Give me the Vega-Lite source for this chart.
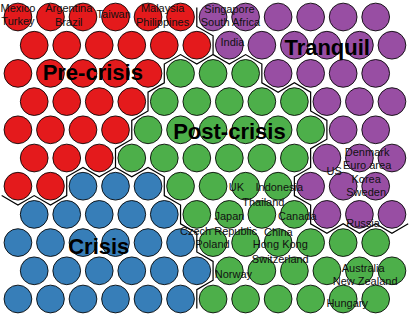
{
  "$schema": "https://vega.github.io/schema/vega-lite/v6.json",
  "width": 415,
  "height": 321,
  "padding": 0,
  "autosize": {"type": "fit", "contains": "padding"},
  "config": {"view": {"stroke": null}, "font": "Liberation Sans"},
  "datasets": {
    "cells": [
      {"x":0,"y":0,"g":"Pre-crisis"},{"x":1,"y":0,"g":"Pre-crisis"},{"x":2,"y":0,"g":"Pre-crisis"},{"x":3,"y":0,"g":"Pre-crisis"},{"x":4,"y":0,"g":"Pre-crisis"},{"x":5,"y":0,"g":"Pre-crisis"},{"x":6,"y":0,"g":"Tranquil"},{"x":7,"y":0,"g":"Tranquil"},{"x":8,"y":0,"g":"Tranquil"},{"x":9,"y":0,"g":"Tranquil"},{"x":10,"y":0,"g":"Tranquil"},{"x":11,"y":0,"g":"Tranquil"},
      {"x":0.5,"y":1,"g":"Pre-crisis"},{"x":1.5,"y":1,"g":"Pre-crisis"},{"x":2.5,"y":1,"g":"Pre-crisis"},{"x":3.5,"y":1,"g":"Pre-crisis"},{"x":4.5,"y":1,"g":"Pre-crisis"},{"x":5.5,"y":1,"g":"Pre-crisis"},{"x":6.5,"y":1,"g":"Tranquil"},{"x":7.5,"y":1,"g":"Tranquil"},{"x":8.5,"y":1,"g":"Tranquil"},{"x":9.5,"y":1,"g":"Tranquil"},{"x":10.5,"y":1,"g":"Tranquil"},{"x":11.5,"y":1,"g":"Tranquil"},
      {"x":0,"y":2,"g":"Pre-crisis"},{"x":1,"y":2,"g":"Pre-crisis"},{"x":2,"y":2,"g":"Pre-crisis"},{"x":3,"y":2,"g":"Pre-crisis"},{"x":4,"y":2,"g":"Pre-crisis"},{"x":5,"y":2,"g":"Post-crisis"},{"x":6,"y":2,"g":"Post-crisis"},{"x":7,"y":2,"g":"Post-crisis"},{"x":8,"y":2,"g":"Tranquil"},{"x":9,"y":2,"g":"Tranquil"},{"x":10,"y":2,"g":"Tranquil"},{"x":11,"y":2,"g":"Tranquil"},
      {"x":0.5,"y":3,"g":"Pre-crisis"},{"x":1.5,"y":3,"g":"Pre-crisis"},{"x":2.5,"y":3,"g":"Pre-crisis"},{"x":3.5,"y":3,"g":"Pre-crisis"},{"x":4.5,"y":3,"g":"Post-crisis"},{"x":5.5,"y":3,"g":"Post-crisis"},{"x":6.5,"y":3,"g":"Post-crisis"},{"x":7.5,"y":3,"g":"Post-crisis"},{"x":8.5,"y":3,"g":"Post-crisis"},{"x":9.5,"y":3,"g":"Tranquil"},{"x":10.5,"y":3,"g":"Tranquil"},{"x":11.5,"y":3,"g":"Tranquil"},
      {"x":0,"y":4,"g":"Pre-crisis"},{"x":1,"y":4,"g":"Pre-crisis"},{"x":2,"y":4,"g":"Pre-crisis"},{"x":3,"y":4,"g":"Pre-crisis"},{"x":4,"y":4,"g":"Post-crisis"},{"x":5,"y":4,"g":"Post-crisis"},{"x":6,"y":4,"g":"Post-crisis"},{"x":7,"y":4,"g":"Post-crisis"},{"x":8,"y":4,"g":"Post-crisis"},{"x":9,"y":4,"g":"Post-crisis"},{"x":10,"y":4,"g":"Tranquil"},{"x":11,"y":4,"g":"Tranquil"},
      {"x":0.5,"y":5,"g":"Pre-crisis"},{"x":1.5,"y":5,"g":"Pre-crisis"},{"x":2.5,"y":5,"g":"Pre-crisis"},{"x":3.5,"y":5,"g":"Post-crisis"},{"x":4.5,"y":5,"g":"Post-crisis"},{"x":5.5,"y":5,"g":"Post-crisis"},{"x":6.5,"y":5,"g":"Post-crisis"},{"x":7.5,"y":5,"g":"Post-crisis"},{"x":8.5,"y":5,"g":"Post-crisis"},{"x":9.5,"y":5,"g":"Tranquil"},{"x":10.5,"y":5,"g":"Tranquil"},{"x":11.5,"y":5,"g":"Tranquil"},
      {"x":0,"y":6,"g":"Pre-crisis"},{"x":1,"y":6,"g":"Pre-crisis"},{"x":2,"y":6,"g":"Crisis"},{"x":3,"y":6,"g":"Crisis"},{"x":4,"y":6,"g":"Crisis"},{"x":5,"y":6,"g":"Post-crisis"},{"x":6,"y":6,"g":"Post-crisis"},{"x":7,"y":6,"g":"Post-crisis"},{"x":8,"y":6,"g":"Post-crisis"},{"x":9,"y":6,"g":"Tranquil"},{"x":10,"y":6,"g":"Tranquil"},{"x":11,"y":6,"g":"Tranquil"},
      {"x":0.5,"y":7,"g":"Crisis"},{"x":1.5,"y":7,"g":"Crisis"},{"x":2.5,"y":7,"g":"Crisis"},{"x":3.5,"y":7,"g":"Crisis"},{"x":4.5,"y":7,"g":"Crisis"},{"x":5.5,"y":7,"g":"Post-crisis"},{"x":6.5,"y":7,"g":"Post-crisis"},{"x":7.5,"y":7,"g":"Post-crisis"},{"x":8.5,"y":7,"g":"Post-crisis"},{"x":9.5,"y":7,"g":"Tranquil"},{"x":10.5,"y":7,"g":"Tranquil"},{"x":11.5,"y":7,"g":"Tranquil"},
      {"x":0,"y":8,"g":"Crisis"},{"x":1,"y":8,"g":"Crisis"},{"x":2,"y":8,"g":"Crisis"},{"x":3,"y":8,"g":"Crisis"},{"x":4,"y":8,"g":"Crisis"},{"x":5,"y":8,"g":"Crisis"},{"x":6,"y":8,"g":"Post-crisis"},{"x":7,"y":8,"g":"Post-crisis"},{"x":8,"y":8,"g":"Post-crisis"},{"x":9,"y":8,"g":"Post-crisis"},{"x":10,"y":8,"g":"Post-crisis"},{"x":11,"y":8,"g":"Post-crisis"},
      {"x":0.5,"y":9,"g":"Crisis"},{"x":1.5,"y":9,"g":"Crisis"},{"x":2.5,"y":9,"g":"Crisis"},{"x":3.5,"y":9,"g":"Crisis"},{"x":4.5,"y":9,"g":"Crisis"},{"x":5.5,"y":9,"g":"Crisis"},{"x":6.5,"y":9,"g":"Post-crisis"},{"x":7.5,"y":9,"g":"Post-crisis"},{"x":8.5,"y":9,"g":"Post-crisis"},{"x":9.5,"y":9,"g":"Post-crisis"},{"x":10.5,"y":9,"g":"Post-crisis"},{"x":11.5,"y":9,"g":"Post-crisis"},
      {"x":0,"y":10,"g":"Crisis"},{"x":1,"y":10,"g":"Crisis"},{"x":2,"y":10,"g":"Crisis"},{"x":3,"y":10,"g":"Crisis"},{"x":4,"y":10,"g":"Crisis"},{"x":5,"y":10,"g":"Crisis"},{"x":6,"y":10,"g":"Post-crisis"},{"x":7,"y":10,"g":"Post-crisis"},{"x":8,"y":10,"g":"Post-crisis"},{"x":9,"y":10,"g":"Post-crisis"},{"x":10,"y":10,"g":"Post-crisis"},{"x":11,"y":10,"g":"Post-crisis"}
    ],
    "borders": [
      {"p":1,"o":0,"x":5.5,"y":-0.333},{"p":1,"o":1,"x":5.5,"y":0.333},{"p":1,"o":2,"x":6,"y":0.667},{"p":1,"o":3,"x":6,"y":1.333},{"p":1,"o":4,"x":6.5,"y":1.667},{"p":1,"o":5,"x":7,"y":1.333},{"p":1,"o":6,"x":7.5,"y":1.667},{"p":1,"o":7,"x":7.5,"y":2.333},{"p":1,"o":8,"x":8,"y":2.667},{"p":1,"o":9,"x":8.5,"y":2.333},{"p":1,"o":10,"x":9,"y":2.667},{"p":1,"o":11,"x":9,"y":3.333},{"p":1,"o":12,"x":9.5,"y":3.667},{"p":1,"o":13,"x":9.5,"y":4.333},{"p":1,"o":14,"x":9,"y":4.667},{"p":1,"o":15,"x":9,"y":5.333},{"p":1,"o":16,"x":8.5,"y":5.667},{"p":1,"o":17,"x":8.5,"y":6.333},{"p":1,"o":18,"x":9,"y":6.667},{"p":1,"o":19,"x":9,"y":7.333},{"p":1,"o":20,"x":9.5,"y":7.667},{"p":1,"o":21,"x":10,"y":7.333},{"p":1,"o":22,"x":10.5,"y":7.667},{"p":1,"o":23,"x":11,"y":7.333},{"p":1,"o":24,"x":11.5,"y":7.667},{"p":1,"o":25,"x":12,"y":7.333},
      {"p":2,"o":0,"x":6,"y":1.333},{"p":2,"o":1,"x":5.5,"y":1.667},{"p":2,"o":2,"x":5,"y":1.333},{"p":2,"o":3,"x":4.5,"y":1.667},{"p":2,"o":4,"x":4.5,"y":2.333},{"p":2,"o":5,"x":4,"y":2.667},{"p":2,"o":6,"x":4,"y":3.333},{"p":2,"o":7,"x":3.5,"y":3.667},{"p":2,"o":8,"x":3.5,"y":4.333},{"p":2,"o":9,"x":3,"y":4.667},{"p":2,"o":10,"x":3,"y":5.333},{"p":2,"o":11,"x":2.5,"y":5.667},{"p":2,"o":12,"x":2,"y":5.333},{"p":2,"o":13,"x":1.5,"y":5.667},{"p":2,"o":14,"x":1.5,"y":6.333},{"p":2,"o":15,"x":1,"y":6.667},{"p":2,"o":16,"x":0.5,"y":6.333},{"p":2,"o":17,"x":0,"y":6.667},{"p":2,"o":18,"x":-0.5,"y":6.333},
      {"p":3,"o":0,"x":3,"y":5.333},{"p":3,"o":1,"x":3.5,"y":5.667},{"p":3,"o":2,"x":4,"y":5.333},{"p":3,"o":3,"x":4.5,"y":5.667},{"p":3,"o":4,"x":4.5,"y":6.333},{"p":3,"o":5,"x":5,"y":6.667},{"p":3,"o":6,"x":5,"y":7.333},{"p":3,"o":7,"x":5.5,"y":7.667},{"p":3,"o":8,"x":5.5,"y":8.333},{"p":3,"o":9,"x":6,"y":8.667},{"p":3,"o":10,"x":6,"y":9.333},{"p":3,"o":11,"x":5.5,"y":9.667},{"p":3,"o":12,"x":5.5,"y":10.333}
    ],
    "countries": [
      {"x":0,"y":-0.284,"t":"Mexico"},{"x":0,"y":0.177,"t":"Turkey"},
      {"x":1.564,"y":-0.284,"t":"Argentina"},{"x":1.564,"y":0.213,"t":"Brazil"},
      {"x":2.945,"y":-0.071,"t":"Taiwan"},
      {"x":4.448,"y":-0.284,"t":"Malaysia"},{"x":4.448,"y":0.213,"t":"Philippines"},
      {"x":6.503,"y":-0.248,"t":"Singapore"},{"x":6.534,"y":0.213,"t":"South Africa"},
      {"x":6.595,"y":0.922,"t":"India"},
      {"x":10.736,"y":4.823,"t":"Denmark"},{"x":10.736,"y":5.284,"t":"Euro area"},{"x":10.706,"y":5.78,"t":"Korea"},{"x":10.706,"y":6.241,"t":"Sweden"},
      {"x":9.724,"y":5.496,"t":"US"},
      {"x":6.718,"y":6.064,"t":"UK"},{"x":8.037,"y":6.064,"t":"Indonesia"},{"x":7.546,"y":6.596,"t":"Thailand"},
      {"x":6.503,"y":7.092,"t":"Japan"},{"x":8.589,"y":7.092,"t":"Canada"},
      {"x":6.166,"y":7.624,"t":"Czech Republic"},{"x":8.006,"y":7.66,"t":"China"},
      {"x":5.982,"y":8.085,"t":"Poland"},{"x":8.067,"y":8.085,"t":"Hong Kong"},{"x":8.067,"y":8.617,"t":"Switzerland"},
      {"x":6.626,"y":9.149,"t":"Norway"},
      {"x":10.613,"y":7.34,"t":"Russia"},
      {"x":10.613,"y":8.936,"t":"Australia"},{"x":10.675,"y":9.397,"t":"New Zealand"},
      {"x":10.123,"y":10.177,"t":"Hungary"}
    ],
    "groups": [
      {"x":2.301,"y":1.986,"t":"Pre-crisis"},
      {"x":9.509,"y":1.099,"t":"Tranquil"},
      {"x":6.503,"y":4.078,"t":"Post-crisis"},
      {"x":2.485,"y":8.156,"t":"Crisis"}
    ]
  },
  "encoding": {
    "x": {"field": "x", "type": "quantitative", "axis": null, "scale": {"domain": [-0.521, 12.209], "zero": false, "nice": false}},
    "y": {"field": "y", "type": "quantitative", "axis": null, "scale": {"domain": [-0.603, 10.78], "zero": false, "nice": false, "reverse": true}}
  },
  "layer": [
    {
      "data": {"name": "borders"},
      "mark": {"type": "line", "color": "black", "strokeWidth": 1.2, "clip": true},
      "encoding": {"detail": {"field": "p", "type": "nominal"}, "order": {"field": "o", "type": "quantitative"}}
    },
    {
      "data": {"name": "cells"},
      "mark": {"type": "point", "shape": "circle", "filled": true, "size": 770, "stroke": "black", "strokeWidth": 1, "opacity": 1, "strokeOpacity": 0.85},
      "encoding": {
        "fill": {"field": "g", "type": "nominal", "legend": null, "scale": {"domain": ["Pre-crisis", "Crisis", "Post-crisis", "Tranquil"], "range": ["#E41A1C", "#377EB8", "#4DAF4A", "#984EA3"]}}
      }
    },
    {
      "data": {"name": "countries"},
      "mark": {"type": "text", "font": "Liberation Sans", "fontSize": 11, "color": "#111111", "align": "center", "baseline": "middle"},
      "encoding": {"text": {"field": "t", "type": "nominal"}}
    },
    {
      "data": {"name": "groups"},
      "mark": {"type": "text", "font": "Liberation Sans", "fontSize": 22, "fontWeight": "bold", "color": "black", "align": "center", "baseline": "middle"},
      "encoding": {"text": {"field": "t", "type": "nominal"}}
    }
  ]
}
